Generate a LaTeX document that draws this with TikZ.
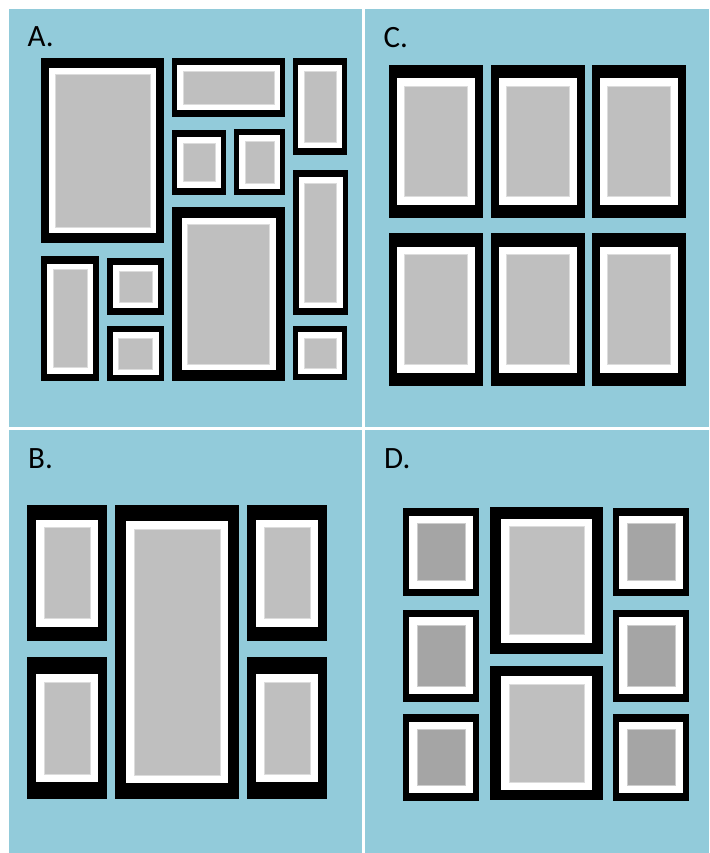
\documentclass[tikz,border=0pt]{standalone}
\usepackage{fontspec}
\setmainfont{Carlito}
\usetikzlibrary{positioning}
\definecolor{wallblue}{HTML}{92CBDA}
\definecolor{picgray}{HTML}{BFBFBF}
\definecolor{picdark}{HTML}{A5A5A5}

% frame: [photo colour] {x1}{y1}{x2}{y2}{black side}{black top/bottom}{white mat}
\newcommand{\wallframe}[8][picgray]{%
  \fill[black] (#2,#3) rectangle (#4,#5);
  \fill[white] (#2+#6,#3+#7) rectangle (#4-#6,#5-#7);
  \filldraw[fill=#1, draw=#1!55!white, line width=0.6pt] (#2+#6+#8,#3+#7+#8) rectangle (#4-#6-#8,#5-#7-#8);
}

\begin{document}
\begin{tikzpicture}[x=1pt, y=-1pt,
    panel/.style={fill=wallblue},
    tag/.style={anchor=base west, inner sep=0pt, font=\fontsize{31}{36}\selectfont}]
  \fill[white] (0,0) rectangle (709,853);
  \useasboundingbox (0,0) rectangle (709,853);

  % Panels
  \fill[panel] (9,9) rectangle (362,427);
  \fill[panel] (365,9) rectangle (709,427);
  \fill[panel] (9,430) rectangle (362,853);
  \fill[panel] (365,430) rectangle (709,853);

  % Panel A
  \node[tag] (labA) at (27.5,47) {A.};
  \wallframe{41}{58}{164}{243}{8}{10}{6}
  \wallframe{172}{58}{285}{117}{5}{7}{6}
  \wallframe{293}{58}{347}{155}{5}{7}{6}
  \wallframe{172}{130}{226}{195}{5}{7.5}{6}
  \wallframe{234}{129}{285}{195}{5}{6}{6}
  \wallframe{293}{170}{348}{315}{5.5}{7}{6}
  \wallframe{172}{207}{285}{381}{9.5}{11}{6}
  \wallframe{41}{256}{99}{381}{6}{7.5}{6}
  \wallframe{107}{258}{164}{315}{6}{7}{6}
  \wallframe{107}{326}{164}{381}{5.5}{6}{6}
  \wallframe{293}{326}{347}{380}{5}{6}{6}

  % Panel C
  \node[tag] (labC) at (383.5,47.5) {C.};
  \foreach \cx in {389,491,592}
    \foreach \cy in {65,233}
      \wallframe{\cx}{\cy}{\cx+93.5}{\cy+153}{7.5}{13.5}{8};

  % Panel B
  \node[tag] (labB) at (28,468) {B.};
  \wallframe{27}{505}{107}{641}{9}{14.5}{8}
  \wallframe{27}{657}{107}{799}{9}{17}{8}
  \wallframe{115}{505}{239}{799}{11}{16}{8}
  \wallframe{247}{505}{327}{641}{9}{14.5}{8}
  \wallframe{247}{657}{327}{799}{9}{17}{8}

  % Panel D
  \node[tag] (labD) at (384,468) {D.};
  \foreach \cx in {403,613}
    \foreach \cy/\ch in {508/88,609.5/92,714/86.5}
      \wallframe[picdark]{\cx}{\cy}{\cx+76}{\cy+\ch}{6}{7.5}{8};
  \wallframe{490}{507}{603}{654}{11}{11.5}{8}
  \wallframe{490}{666}{603}{800}{11}{10}{8}
\end{tikzpicture}
\end{document}
